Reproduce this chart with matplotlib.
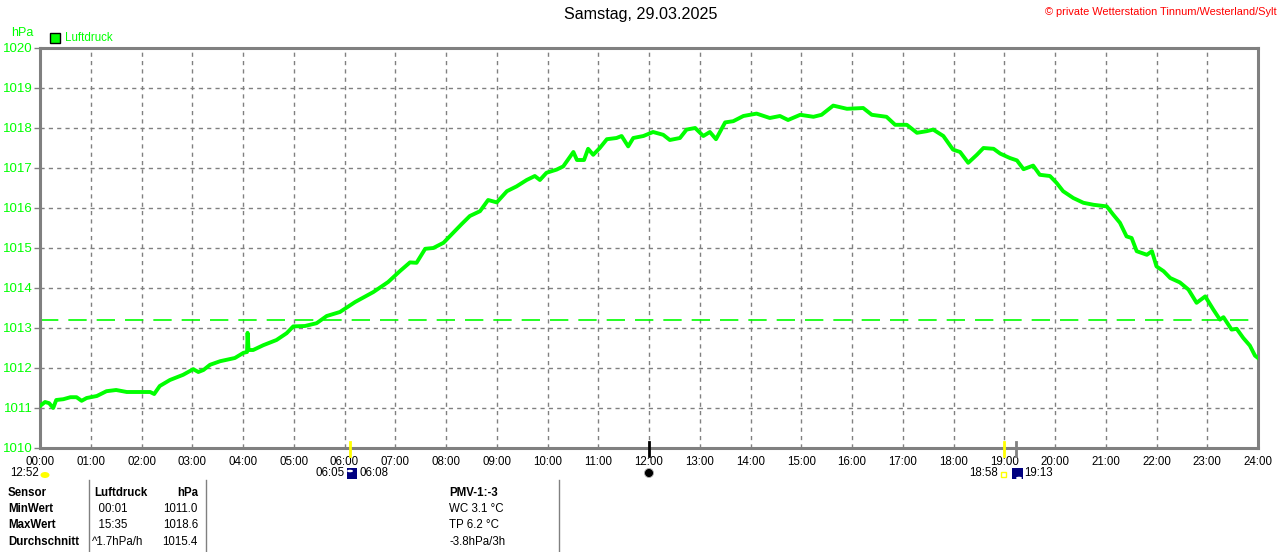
import matplotlib
matplotlib.use("Agg")
import matplotlib.pyplot as plt
import matplotlib.transforms as mtransforms
from matplotlib.patches import Rectangle, Circle, Ellipse

# pressure curve (hours since midnight, hPa)
hours = [0.00, 0.10, 0.18, 0.26, 0.32, 0.46, 0.60, 0.72, 0.82, 0.92, 1.12, 1.31, 1.50, 1.71,
         2.17, 2.25, 2.36, 2.56, 2.82, 3.02, 3.12, 3.22, 3.35, 3.55, 3.84, 4.01, 4.08, 4.09,
         4.11, 4.20, 4.40, 4.66, 4.86, 4.99, 5.22, 5.45, 5.65, 5.91, 6.21, 6.57, 6.86, 7.09,
         7.29, 7.42, 7.59, 7.75, 7.95, 8.14, 8.31, 8.47, 8.67, 8.83, 9.00, 9.20, 9.39, 9.59,
         9.75, 9.85, 9.98, 10.18, 10.31, 10.51, 10.58, 10.72, 10.80, 10.90, 11.03, 11.17,
         11.36, 11.46, 11.59, 11.69, 11.89, 12.08, 12.28, 12.41, 12.61, 12.74, 12.91, 13.07,
         13.20, 13.32, 13.50, 13.66, 13.86, 14.12, 14.38, 14.58, 14.74, 14.98, 15.24, 15.40,
         15.63, 15.90, 16.22, 16.39, 16.68, 16.85, 17.08, 17.28, 17.47, 17.60, 17.80, 17.99,
         18.13, 18.29, 18.46, 18.59, 18.79, 18.92, 19.11, 19.25, 19.38, 19.57, 19.70, 19.90,
         20.03, 20.16, 20.36, 20.56, 20.76, 21.02, 21.15, 21.28, 21.41, 21.51, 21.61, 21.81,
         21.91, 22.00, 22.14, 22.27, 22.46, 22.63, 22.79, 22.96, 23.12, 23.25, 23.32, 23.48,
         23.58, 23.71, 23.84, 23.94, 24.00]
pressure = [1011.05, 1011.15, 1011.12, 1011.00, 1011.20, 1011.22, 1011.27, 1011.27, 1011.18,
            1011.25, 1011.30, 1011.42, 1011.45, 1011.40, 1011.40, 1011.35, 1011.55, 1011.70,
            1011.83, 1011.97, 1011.90, 1011.95, 1012.08, 1012.17, 1012.25, 1012.38, 1012.40,
            1012.88, 1012.45, 1012.45, 1012.57, 1012.70, 1012.87, 1013.04, 1013.05, 1013.12,
            1013.30, 1013.40, 1013.65, 1013.90, 1014.15, 1014.42, 1014.64, 1014.63, 1014.98,
            1015.00, 1015.13, 1015.38, 1015.60, 1015.80, 1015.92, 1016.20, 1016.14, 1016.42,
            1016.54, 1016.70, 1016.80, 1016.70, 1016.88, 1016.96, 1017.04, 1017.40, 1017.20,
            1017.20, 1017.48, 1017.33, 1017.50, 1017.72, 1017.75, 1017.80, 1017.54, 1017.75,
            1017.80, 1017.90, 1017.83, 1017.70, 1017.75, 1017.96, 1018.00, 1017.80, 1017.90,
            1017.72, 1018.14, 1018.17, 1018.30, 1018.36, 1018.25, 1018.30, 1018.20, 1018.33,
            1018.28, 1018.33, 1018.56, 1018.48, 1018.50, 1018.33, 1018.28, 1018.08, 1018.08,
            1017.88, 1017.92, 1017.96, 1017.80, 1017.46, 1017.40, 1017.13, 1017.33, 1017.50,
            1017.48, 1017.36, 1017.25, 1017.19, 1016.97, 1017.06, 1016.83, 1016.80, 1016.63,
            1016.42, 1016.25, 1016.13, 1016.08, 1016.04, 1015.83, 1015.63, 1015.29, 1015.25,
            1014.92, 1014.83, 1014.92, 1014.54, 1014.42, 1014.25, 1014.14, 1013.96, 1013.63,
            1013.79, 1013.46, 1013.21, 1013.27, 1012.96, 1012.98, 1012.75, 1012.56, 1012.31,
            1012.25]
ref_line = 1013.2

x_ticks = list(range(25))
x_labels = [f"{h:02d}:00" for h in x_ticks]
y_ticks = list(range(1010, 1021))

# sun / moon events on the time axis
event_hours = [6.11, 12.0, 19.0, 19.24]
event_colors = ["#ffff00", "black", "#ffff00", "#808080"]

table_rows = [
    ("Sensor", "Luftdruck", "hPa", "PMV-1:-3"),
    ("MinWert", "  00:01", "1011.0", "WC 3.1 °C"),
    ("MaxWert", "  15:35", "1018.6", "TP 6.2 °C"),
    ("Durchschnitt", "^1.7hPa/h", "1015.4", "-3.8hPa/3h"),
]

GREEN = "#00ff00"
GRAY = "#808080"
W, H = 1280, 552
plt.rcParams["font.family"] = ["Liberation Sans", "DejaVu Sans"]


def px(x, y):
    return x / W, 1 - y / H


fig = plt.figure(figsize=(12.8, 5.52), dpi=100)
ax = fig.add_axes([40 / W, 1 - 448 / H, 1218 / W, 400 / H])

ax.plot(hours, pressure, color=GREEN, lw=2.8, solid_joinstyle="round", zorder=3)
ax.axhline(ref_line, color=GREEN, lw=1.2, dashes=(11, 6), zorder=2)

ax.set_xlim(0, 24)
ax.set_ylim(1010, 1020)
ax.set_xticks(x_ticks)
ax.set_xticklabels(x_labels, fontsize=8.3)
ax.set_yticks(y_ticks)
ax.set_yticklabels([str(v) for v in y_ticks], fontsize=9.5, color=GREEN)
ax.tick_params(axis="x", length=0, pad=6)
ax.tick_params(axis="y", length=4, width=1, color=GRAY, pad=1)
ax.grid(True, color=GRAY, lw=1, dashes=(3, 3))
for s in ax.spines.values():
    s.set_color(GRAY)
    s.set_linewidth(2.2)

# event ticks across the bottom axis
trans = mtransforms.blended_transform_factory(ax.transData, ax.transAxes)
for h, c in zip(event_hours, event_colors):
    ax.plot([h, h], [0.016, -0.02], color=c, lw=2, transform=trans, clip_on=False, zorder=5)

# texts and headline
fig.text(*px(641, 15), "Samstag, 29.03.2025", ha="center", va="center", fontsize=11.6)
fig.text(*px(1277, 12), "© private Wetterstation Tinnum/Westerland/Sylt",
         ha="right", va="center", fontsize=7.9, color="red")
fig.text(*px(11, 33), "hPa", ha="left", va="center", fontsize=9, color=GREEN)
fig.patches.append(Rectangle(px(50, 43), 10 / W, 10 / H, transform=fig.transFigure,
                             facecolor=GREEN, edgecolor="black", lw=1))
fig.text(*px(65, 38), "Luftdruck", ha="left", va="center", fontsize=8.3, color=GREEN)

# sun rise / set line under axis
fig.text(*px(10, 473), "12:52", ha="left", va="center", fontsize=8.3)
fig.patches.append(Ellipse(px(45, 475), 9 / W, 6 / H, transform=fig.transFigure,
                           facecolor="#ffff00", edgecolor="none"))
fig.text(*px(345, 473), "06:05", ha="right", va="center", fontsize=8.3)
fig.patches.append(Rectangle(px(347, 479), 10 / W, 11 / H, transform=fig.transFigure,
                             facecolor="#000080", edgecolor="none"))
fig.patches.append(Circle(px(350, 471), 3 / W, transform=fig.transFigure,
                          facecolor="white", edgecolor="none"))
fig.text(*px(359, 473), "06:08", ha="left", va="center", fontsize=8.3)
fig.patches.append(Ellipse(px(649, 473), 9 / W, 9 / H, transform=fig.transFigure,
                           facecolor="black", edgecolor="#b0b0b0", lw=0.6))
fig.text(*px(998, 473), "18:58", ha="right", va="center", fontsize=8.3)
fig.patches.append(Rectangle(px(1001, 477), 5 / W, 5 / H, transform=fig.transFigure,
                             facecolor="none", edgecolor="#ffff00", lw=1))
fig.patches.append(Rectangle(px(1012, 479), 11 / W, 11 / H, transform=fig.transFigure,
                             facecolor="#000080", edgecolor="none"))
fig.patches.append(Circle(px(1019, 478), 3 / W, transform=fig.transFigure,
                          facecolor="white", edgecolor="none"))
fig.text(*px(1024, 473), "19:13", ha="left", va="center", fontsize=8.3)

# bottom table
for xv in [89, 206, 559]:
    fig.add_artist(plt.Line2D([xv / W, xv / W], [0, 1 - 480 / H], color=GRAY, lw=1))
row_y = [493, 509, 525, 542]
for i, (label, val, num, extra) in enumerate(table_rows):
    weight = "bold" if i == 0 else "normal"
    fig.text(*px(8, row_y[i]), label, ha="left", va="center", fontsize=8.3, fontweight="bold")
    fig.text(*px(94 if i == 0 else 92, row_y[i]), val, ha="left", va="center",
             fontsize=8.3, fontweight=weight)
    fig.text(*px(198, row_y[i]), num, ha="right", va="center", fontsize=8.3, fontweight=weight)
    fig.text(*px(449, row_y[i]), extra, ha="left", va="center", fontsize=8.3, fontweight=weight)

fig.savefig("out.png", dpi=100)
